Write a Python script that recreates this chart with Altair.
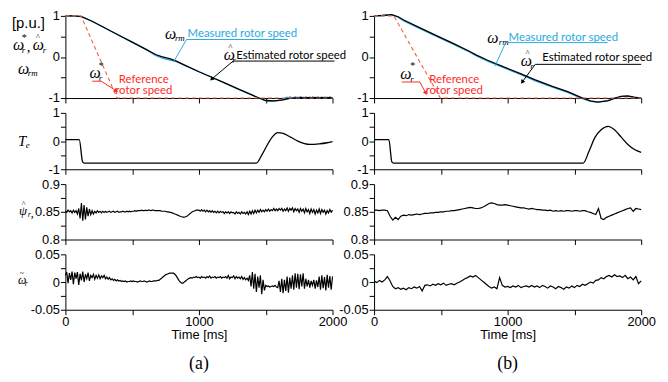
import altair as alt
import pandas as pd

# ---------------- data ----------------
T10 = list(range(0, 2001, 10))
T20 = list(range(0, 2001, 20))

# (a) speed [p.u.]
spd_a_t = [0, 60, 120, 200, 300, 400, 500, 600, 675, 720, 780, 830, 900, 1000, 1100, 1200,
           1300, 1400, 1450, 1500, 1560, 1620, 1680, 1750, 1850, 2000]
spd_a_est = [1.0, 1.0, 0.98, 0.87, 0.70, 0.53, 0.36, 0.19, 0.06, 0.01, -0.04, -0.10, -0.21, -0.36,
             -0.50, -0.645, -0.79, -0.93, -1.0, -1.06, -1.07, -1.05, -1.01, -0.99, -0.99, -0.99]
meas_a_t = [0, 20, 40, 60, 80, 100, 120, 140, 200, 300, 400, 500, 600, 675, 720, 760, 800, 830,
            900, 1000, 1100, 1200, 1300, 1400, 1450, 1500, 1540, 1580, 1620] + list(range(1640, 2001, 10))
meas_a_v = [1.0, 0.99, 1.0, 0.99, 1.0, 0.99, 0.98, 0.96, 0.87, 0.70, 0.53, 0.36, 0.19, 0.04, -0.02,
            -0.06, -0.09, -0.11, -0.21, -0.36, -0.50, -0.645, -0.79, -0.93, -1.0, -1.07, -1.08, -1.07, -1.04,
            -1.01, -0.99, -0.98, -1.00, -0.97, -0.99, -0.985, -1.00, -0.97, -0.99,
            -0.98, -0.995, -0.965, -0.99, -0.98, -1.00, -0.97, -0.985, -0.99, -0.975,
            -1.00, -0.97, -0.99, -0.98, -0.995, -0.97, -0.985, -0.99, -0.975, -1.00,
            -0.975, -0.99, -0.98, -0.995, -0.97, -0.985, -0.99]
ref_a_t = [0, 117, 387, 2000]
ref_a_v = [1, 1, -1, -1]

# (b) speed [p.u.]
spd_b_t = [0, 60, 133, 180, 222, 344, 467, 600, 713, 763, 850, 961, 1100, 1207, 1330, 1454, 1553,
           1620, 1676, 1750, 1800, 1850, 1900, 1948, 2000]
spd_b_est = [1.0, 1.01, 1.03, 0.98, 0.90, 0.71, 0.52, 0.32, 0.14, 0.05, -0.08, -0.23, -0.41, -0.56,
             -0.71, -0.85, -0.99, -1.07, -1.10, -1.07, -1.01, -0.96, -0.95, -0.98, -1.0]
spd_b_meas = [1.0, 1.01, 1.02, 0.97, 0.88, 0.69, 0.50, 0.30, 0.12, 0.03, -0.10, -0.25, -0.43, -0.58,
              -0.73, -0.87, -1.01, -1.08, -1.10, -1.06, -1.00, -0.96, -0.96, -0.99, -1.0]
ref_b_t = [0, 148, 496, 2000]
ref_b_v = [1, 1, -1, -1]

# torque Te
te_a_t = [0, 104, 129, 140, 600, 1000, 1430, 1470, 1510, 1550, 1590, 1630, 1690, 1740, 1790, 1830,
          1900, 1960, 2000]
te_a_v = [0.05, 0.05, -0.74, -0.78, -0.78, -0.78, -0.78, -0.5, -0.15, 0.15, 0.30, 0.27, 0.13, 0.0,
          -0.09, -0.12, -0.10, -0.06, -0.02]
te_b_t = [0, 111, 133, 145, 600, 1000, 1566, 1610, 1654, 1700, 1752, 1800, 1852, 1900, 1950, 2000]
te_b_v = [0.05, 0.05, -0.74, -0.78, -0.78, -0.78, -0.78, -0.35, 0.13, 0.40, 0.52, 0.40, 0.13,
          -0.12, -0.30, -0.40]

# flux estimate psi_r (a: 10 ms grid, b: 20 ms grid)
psi_a = [.851, .849, .853, .850, .852, .848, .853, .849, .852, .846,
         .856, .838, .866, .834, .862, .836, .858, .842, .855, .845,
         .852, .846, .851, .848, .852, .849, .851, .848, .851, .849,
         .851, .849, .850, .851, .849, .850, .851, .849, .850, .851,
         .849, .850, .850, .851, .850, .850, .851, .850, .851, .850,
         .851, .851, .852, .851, .852, .852, .852, .853, .852, .852,
         .853, .852, .853, .853, .852, .853, .853, .852, .852, .852,
         .852, .852, .851, .851, .851, .851, .850, .850, .849, .849,
         .848, .847, .846, .845, .844, .843, .842, .841, .8405, .8405,
         .841, .842, .844, .846, .848, .850, .851, .852, .853, .853,
         .853, .851, .854, .851, .853, .850, .853, .850, .852, .849,
         .852, .849, .851, .848, .851, .848, .851, .849, .850, .847,
         .850, .848, .850, .847, .850, .848, .849, .846, .850, .847,
         .849, .846, .850, .847, .849, .846, .850, .845, .851, .846,
         .852, .847, .853, .848, .853, .849, .854, .850, .853, .850,
         .854, .851, .855, .851, .854, .852, .856, .852, .855, .852,
         .856, .853, .856, .851, .855, .852, .857, .851, .856, .853,
         .857, .850, .856, .852, .855, .849, .856, .851, .855, .848,
         .856, .850, .854, .847, .855, .849, .854, .846, .853, .848,
         .855, .847, .854, .849, .853, .846, .852, .848, .854, .849,
         .853]
psi_b = [.853, .853, .852, .853, .853, .852, .842, .835, .840, .836,
         .842, .844, .843, .845, .844, .845, .846, .845, .846, .847,
         .847, .848, .848, .849, .849, .850, .850, .851, .851, .852,
         .852, .853, .854, .855, .856, .857, .858, .857, .856, .856,
         .857, .859, .862, .865, .866, .865, .863, .862, .862, .863,
         .862, .861, .860, .859, .858, .857, .857, .856, .855, .856,
         .855, .854, .854, .853, .853, .852, .853, .851, .852, .851,
         .852, .851, .852, .852, .851, .852, .852, .851, .852, .852,
         .850, .849, .847, .845, .856, .838, .836, .840, .842, .844,
         .846, .848, .850, .852, .854, .856, .857, .851, .856, .855,
         .854]

# speed estimation error (a: 10 ms grid, b: 20 ms grid)
wt_a = [.012, .018, -.002, .016, .004, .019, -.004, .017, .006, .018,
        -.005, .015, .003, .019, .000, .014, .006, .017, .002, .012,
        .008, .014, .005, .012, .007, .013, .006, .011, .008, .012,
        .006, .009, .005, .008, .004, .006, .003, .005, .002, .004,
        .002, .003, .001, .002, .001, .002, .000, .001, .001, .002,
        .001, .002, .001, .001, .000, .001, .002, .001, .001, .002,
        .001, .000, .001, .002, .001, .001, .002, .002, .002, .003,
        .003, .005, .007, .009, .011, .013, .014, .015, .016, .016,
        .016, .016, .014, .011, .007, .003, .000, -.002, -.002, .000,
        .002, .004, .006, .007, .008, .007, .009, .008, .010, .008,
        .009, .007, .010, .008, .009, .007, .010, .008, .011, .007,
        .009, .008, .010, .007, .009, .008, .010, .007, .009, .008,
        .010, .007, .012, .006, .009, .008, .011, .006, .010, .007,
        .009, .006, .010, .005, .008, .004, .007, .003, .012, -.008,
        .018, -.012, .015, -.018, .010, -.010, .012, -.022, .004, -.015,
        -.006, -.008, -.007, -.009, -.008, -.007, -.008, -.006, -.009, -.010,
        .002, -.018, .006, -.020, .004, -.016, .010, -.019, .008, -.012,
        .012, -.014, .016, -.010, .015, -.013, .014, -.008, .016, -.012,
        .006, -.008, .004, -.010, .002, -.006, .004, -.012, .003, -.009,
        .010, -.014, .012, -.011, .009, -.015, .013, -.010, .011, -.014,
        .010]
wt_b = [.002, -.001, .003, .000, .004, .010, .002, -.008, -.012, -.010,
        -.013, -.011, -.014, -.010, -.012, -.009, -.011, -.008, -.016, -.006,
        -.005, -.007, -.004, -.006, -.003, -.005, -.002, -.006, -.004, -.003,
        -.005, -.002, .000, .003, .006, .008, .011, .009, .012, .008,
        .004, .000, -.004, -.008, -.011, -.009, -.012, .008, -.006, -.009,
        -.008, -.010, -.007, -.009, -.006, -.010, -.008, -.007, -.009, -.006,
        -.009, -.007, -.010, -.006, -.008, -.011, -.007, -.009, -.012, -.008,
        -.010, -.013, -.009, -.011, -.007, -.010, -.006, -.008, -.004, -.006,
        -.003, .000, -.002, .003, .004, .008, .006, .010, .012, .009,
        .013, .010, .011, .008, .012, .006, .009, .004, .010, -.003,
        .002]

x_ticks = [0, 500, 1000, 1500, 2000]
spd_ticks = [-1, -0.5, 0, 0.5, 1]
psi_ticks = [0.8, 0.825, 0.85, 0.875, 0.9]
wt_ticks = [-0.05, -0.025, 0, 0.025, 0.05]

# ---------------- style ----------------
SANS = "Liberation Sans"
ANNF = "Lato"
SERIF = "Liberation Serif"
BLUE = "#29A9E1"
RED = "#FF2A1F"
REFC = "#F0603E"
W = 270
H_SPD, H_TE, H_PSI, H_WT = 83, 57, 56, 56


def xenc(bottom):
    if bottom:
        ax = alt.Axis(values=x_ticks, labelExpr="datum.value % 1000 == 0 ? '' + datum.value : ''",
                      title="Time [ms]", labelFlush=False)
    else:
        ax = alt.Axis(values=x_ticks, labels=False, title=None)
    return alt.X("t:Q", scale=alt.Scale(domain=[0, 2000], nice=False, zero=False), axis=ax)


def yenc(domain, vals, shown):
    cond = " || ".join("datum.value == %s" % s for s in shown)
    return alt.Y("v:Q", scale=alt.Scale(domain=domain, nice=False, zero=False),
                 axis=alt.Axis(values=vals, labelExpr="(%s) ? '' + datum.value : ''" % cond, title=None))


def series(t, v, X, Y, color="black", width=1.3, dash=None, interp="linear"):
    kw = dict(color=color, strokeWidth=width, interpolate=interp)
    if dash:
        kw["strokeDash"] = dash
    return alt.Chart(pd.DataFrame({"t": t, "v": v})).mark_line(**kw).encode(x=X, y=Y)


def label(t, v, s, X, Y, color="black", size=11.5, font=ANNF, style="normal", align="left", dx=0, dy=0):
    return alt.Chart(pd.DataFrame({"t": [t], "v": [v], "s": [s]})).mark_text(
        color=color, fontSize=size, font=font, fontStyle=style, align=align, baseline="middle", dx=dx, dy=dy
    ).encode(x=X, y=Y, text="s:N")


def label_px(xpx, v, s, Y, color="black", size=15, font=SERIF, style="italic", align="left", dy=0):
    return alt.Chart(pd.DataFrame({"v": [v], "s": [s]})).mark_text(
        color=color, fontSize=size, font=font, fontStyle=style, align=align, baseline="middle", dy=dy
    ).encode(x=alt.value(xpx), y=Y, text="s:N")


def seg(t1, v1, t2, v2, X, Y, color, width=1.0):
    df = pd.DataFrame({"t": [t1], "v": [v1], "t2": [t2], "v2": [v2]})
    return alt.Chart(df).mark_rule(color=color, strokeWidth=width).encode(x=X, y=Y, x2="t2:Q", y2="v2:Q")


def arrow(t, v, ang, X, Y, color):
    return alt.Chart(pd.DataFrame({"t": [t], "v": [v]})).mark_point(
        shape="triangle-up", filled=True, size=22, angle=ang, color=color, opacity=1
    ).encode(x=X, y=Y)


def speed_panel(which):
    X = xenc(False)
    Y = yenc([-1, 1], spd_ticks, [-1, 0, 1])
    L = []
    if which == "a":
        L += [series(meas_a_t, meas_a_v, X, Y, color=BLUE, width=1.3),
              series(spd_a_t, spd_a_est, X, Y, width=1.3),
              series(ref_a_t, ref_a_v, X, Y, color=REFC, width=1.1, dash=[4, 3])]
        a = dict(om=(788, 0.557), rm=(820, 0.47), mt=(915, 0.57), mr=(907, 1665, 0.425), ml=(810, -0.12),
                 oh=(1227, 0.045), rh=(1250, -0.07), et=(1279, 0.02), er=(1256, 2015, -0.10),
                 el=(1095, -0.54), ea=228,
                 os=(223, -0.40), st=(250, -0.22), rs=(250, -0.52), rr=(201, 268, -0.59),
                 rl=(381, -0.825), ra=124, rt=(587, -0.55), rt2=(587, -0.84))
    else:
        L += [series(spd_b_t, spd_b_meas, X, Y, color=BLUE, width=1.3),
              series(spd_b_t, spd_b_est, X, Y, width=1.3),
              series(ref_b_t, ref_b_v, X, Y, color=REFC, width=1.1, dash=[4, 3])]
        a = dict(om=(889, 0.466), rm=(933, 0.37), mt=(1007, 0.47), mr=(985, 1748, 0.35), ml=(906, -0.22),
                 oh=(1141, -0.10), rh=(1170, -0.23), et=(1259, -0.02), er=(1207, 2000, -0.18),
                 el=(1109, -0.61), ea=215,
                 os=(237, -0.41), st=(270, -0.23), rs=(270, -0.54), rr=(207, 343, -0.61),
                 rl=(387, -0.88), ra=153, rt=(600, -0.56), rt2=(600, -0.84))
    # measured
    L += [label(*a["om"], "ω", X, Y, size=16, font=SERIF, style="italic", align="center"),
          label(*a["rm"], "rm", X, Y, size=9, font=SERIF, style="italic"),
          label(*a["mt"], "Measured rotor speed", X, Y, color=BLUE),
          seg(a["mr"][0], a["mr"][2], a["mr"][1], a["mr"][2], X, Y, BLUE),
          seg(a["mr"][0], a["mr"][2], a["ml"][0], a["ml"][1], X, Y, BLUE)]
    # estimated
    L += [label(*a["oh"], "ω", X, Y, size=16, font=SERIF, style="italic", align="center"),
          label(*a["oh"], "^", X, Y, size=9, font=SERIF, align="center", dx=1, dy=-8),
          label(*a["rh"], "r", X, Y, size=9, font=SERIF, style="italic"),
          label(*a["et"], "Estimated rotor speed", X, Y),
          seg(a["er"][0], a["er"][2], a["er"][1], a["er"][2], X, Y, "black"),
          seg(a["er"][0], a["er"][2], a["el"][0], a["el"][1], X, Y, "black"),
          arrow(a["el"][0], a["el"][1], a["ea"], X, Y, "black")]
    # reference
    L += [label(*a["os"], "ω", X, Y, size=16, font=SERIF, style="italic", align="center"),
          label(*a["st"], "*", X, Y, size=10, font=SERIF),
          label(*a["rs"], "r", X, Y, size=9, font=SERIF, style="italic"),
          seg(a["rr"][0], a["rr"][2], a["rr"][1], a["rr"][2], X, Y, RED),
          seg(a["rr"][1], a["rr"][2], a["rl"][0], a["rl"][1], X, Y, RED),
          arrow(a["rl"][0], a["rl"][1], a["ra"], X, Y, RED),
          label(*a["rt"], "Reference", X, Y, color=RED, align="center"),
          label(*a["rt2"], "rotor speed", X, Y, color=RED, align="center")]
    if which == "a":
        L += [label_px(-54, 0.819, "[p.u.]", Y, size=15, font=SANS, style="normal"),
              label_px(-53, 0.289, "ω", Y, size=16),
              label_px(-44, 0.458, "*", Y, size=10, style="normal"),
              label_px(-44, 0.169, "r", Y, size=9),
              label_px(-39, 0.241, ",", Y, size=15, style="normal"),
              label_px(-33, 0.289, "ω", Y, size=16),
              label_px(-30, 0.289, "^", Y, size=9, style="normal", dy=-8),
              label_px(-23, 0.169, "r", Y, size=9),
              label_px(-48, -0.289, "ω", Y, size=16),
              label_px(-38, -0.386, "rm", Y, size=9)]
    return alt.layer(*L).properties(width=W, height=H_SPD)


def te_panel(which):
    X = xenc(False)
    Y = yenc([-1, 1], spd_ticks, [-1, 0, 1])
    t, v = (te_a_t, te_a_v) if which == "a" else (te_b_t, te_b_v)
    L = [series(t, v, X, Y, width=1.3, interp="monotone")]
    if which == "a":
        L += [label_px(-48, 0.018, "T", Y, size=15), label_px(-40, -0.158, "e", Y, size=9)]
    return alt.layer(*L).properties(width=W, height=H_TE)


def psi_panel(which):
    X = xenc(False)
    Y = yenc([0.8, 0.9], psi_ticks, [0.8, 0.85, 0.9])
    t, v = (T10, psi_a) if which == "a" else (T20, psi_b)
    L = [series(t, v, X, Y, width=1.2)]
    if which == "a":
        L += [label_px(-47, 0.8505, "ψ", Y, size=13),
              label_px(-44, 0.8505, "^", Y, size=8, style="normal", dy=-7),
              label_px(-38, 0.8435, "r", Y, size=8),
              label_px(-35, 0.8485, ",", Y, size=12, style="normal")]
    return alt.layer(*L).properties(width=W, height=H_PSI)


def wt_panel(which):
    X = xenc(True)
    Y = yenc([-0.05, 0.05], wt_ticks, [-0.05, 0, 0.05])
    t, v = (T10, wt_a) if which == "a" else (T20, wt_b)
    L = [series(t, v, X, Y, width=1.2)]
    if which == "a":
        L += [label_px(-48, 0.0036, "ω", Y, size=12),
              label_px(-46, 0.0036, "~", Y, size=8, style="normal", dy=-6),
              label_px(-41, -0.0036, "r", Y, size=8)]
    tag = "(a)" if which == "a" else "(b)"
    L += [alt.Chart(pd.DataFrame({"s": [tag]})).mark_text(font=SERIF, fontSize=18, color="black",
                                                          baseline="middle", align="center")
          .encode(x=alt.value(W / 2), y=alt.value(H_WT + 55), text="s:N")]
    return alt.layer(*L).properties(width=W, height=H_WT)


panels = []
for mk in (speed_panel, te_panel, psi_panel, wt_panel):
    panels += [mk("a"), mk("b")]

chart = alt.concat(*panels, columns=2, spacing=alt.RowColnumber(row=15, column=42), bounds="flush").properties(
    padding={"left": 4, "top": 0, "right": 4, "bottom": 4}
).configure_view(stroke=None).configure_axis(
    domainColor="black", tickColor="black", labelColor="black", titleColor="black",
    labelFont=SANS, labelFontSize=13, titleFont=SANS, titleFontSize=13, titleFontWeight="normal",
    tickSize=5, labelPadding=1, titlePadding=0, grid=False, domainWidth=1, tickWidth=1
)

chart.save("out.html", embed_options={"renderer": "svg", "actions": False})
